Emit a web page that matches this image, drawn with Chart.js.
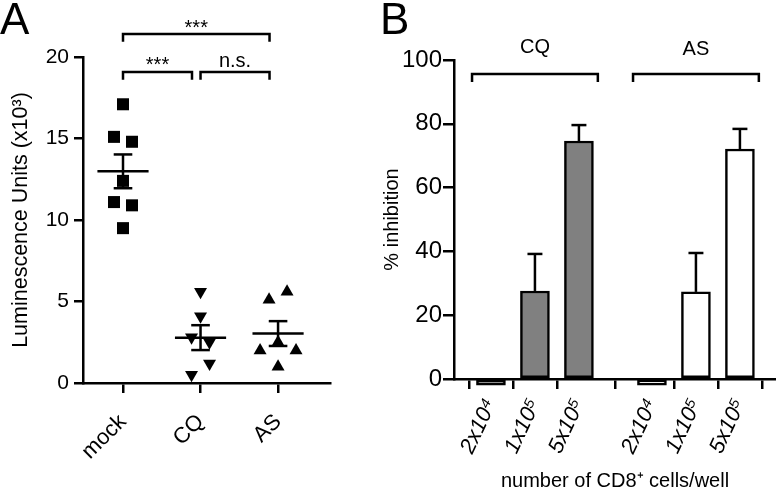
<!DOCTYPE html>
<html>
<head>
<meta charset="utf-8">
<script src="https://cdn.jsdelivr.net/npm/chart.js@4.4.0/dist/chart.umd.min.js"></script>
<style>
  body { margin: 0; background: #fff; }
  #wrap { position: relative; width: 776px; height: 487px; background: #fff; }
  canvas { position: absolute; top: 0; }
</style>
</head>
<body>
<div id="wrap">
  <canvas id="panelA" width="380" height="487" style="left:0"></canvas>
  <canvas id="panelB" width="396" height="487" style="left:380px"></canvas>
</div>
<script>
// ---- panel A: luminescence units (x10^3), one point per well
const groupsA = ['mock', 'CQ', 'AS'];
const mockVals = [17.1, 15.1, 14.8, 12.4, 11.1, 10.9, 9.5];
const cqVals = [5.6, 4.1, 2.8, 2.5, 1.2, 0.5];
const asVals = [5.6, 5.1, 2.5, 2.0, 2.0, 1.0];
// which side-by-side slot each point sits in inside its column
const mockSlots = [0, -1, 1, 0, -1, 1, 0];
const cqSlots = [0, 0, -1, 1, 1, -1];
const asSlots = [1, -1, 0, -2, 2, 0];
const yTicksA = [0, 5, 10, 15, 20];
// significance brackets: from group, to group, label
const sigA = [[0, 2, '***'], [0, 1, '***'], [1, 2, 'n.s.']];

// ---- panel B: % inhibition vs number of CD8+ cells/well
const drugs = ['CQ', 'AS'];
const doses = ['2x10⁴', '1x10⁵', '5x10⁵'];
const cqInhib = [-1.9, 27.6, 74.6];
const cqErr = [0, 11.6, 5.0];
const asInhib = [-1.9, 27.3, 72.1];
const asErr = [0, 12.2, 6.3];
const yTicksB = [0, 20, 40, 60, 80, 100];

const FONT = "'Liberation Sans', Arial, Helvetica, sans-serif";
Chart.defaults.font.family = FONT;
Chart.defaults.color = '#000';

const mean = a => a.reduce((s, v) => s + v, 0) / a.length;
const sem = a => {
  const m = mean(a);
  const sd = Math.sqrt(a.reduce((s, v) => s + (v - m) ** 2, 0) / (a.length - 1));
  return sd / Math.sqrt(a.length);
};

function seg(ctx, x1, y1, x2, y2) {
  ctx.beginPath();
  ctx.moveTo(x1, y1);
  ctx.lineTo(x2, y2);
  ctx.stroke();
}

// put the ink of a label centred on (x, y)
function centredText(ctx, txt, x, y) {
  const m = ctx.measureText(txt);
  ctx.textAlign = 'center';
  ctx.textBaseline = 'alphabetic';
  ctx.fillText(txt, x, y + (m.actualBoundingBoxAscent - m.actualBoundingBoxDescent) / 2);
}

const axisLine = { color: '#000', width: 2.5 };
const tickGrid = len => ({ drawOnChartArea: false, color: '#000', lineWidth: 2.5, tickLength: len });

// ---------------- panel A ----------------
const valsA = [mockVals, cqVals, asVals];
const slotsA = [mockSlots, cqSlots, asSlots];
const markA = [
  { style: 'rect', r: 8.5, rot: 0 },
  { style: 'triangle', r: 7.5, rot: 180 },
  { style: 'triangle', r: 7.5, rot: 0 }
];
const slotW = 0.116;

const datasetsA = groupsA.map((g, gi) => ({
  label: g,
  data: valsA[gi].map((v, i) => ({ x: gi + slotsA[gi][i] * slotW, y: v })),
  pointStyle: markA[gi].style,
  pointRadius: markA[gi].r,
  pointRotation: markA[gi].rot,
  backgroundColor: '#000',
  borderColor: '#000',
  borderWidth: 0,
  clip: false
}));

const drawA = {
  id: 'drawA',
  afterDraw(chart) {
    const { ctx, scales: { x, y } } = chart;
    ctx.save();
    ctx.strokeStyle = '#000';
    ctx.fillStyle = '#000';
    ctx.lineWidth = 2.5;
    // mean +/- SEM
    valsA.forEach((v, gi) => {
      const m = mean(v), e = sem(v);
      const ym = y.getPixelForValue(m), yHi = y.getPixelForValue(m + e), yLo = y.getPixelForValue(m - e);
      seg(ctx, x.getPixelForValue(gi - 0.33), ym, x.getPixelForValue(gi + 0.33), ym);
      seg(ctx, x.getPixelForValue(gi), yHi, x.getPixelForValue(gi), yLo);
      seg(ctx, x.getPixelForValue(gi - 0.12), yHi, x.getPixelForValue(gi + 0.12), yHi);
      seg(ctx, x.getPixelForValue(gi - 0.12), yLo, x.getPixelForValue(gi + 0.12), yLo);
    });
    // brackets
    ctx.font = '20px ' + FONT;
    sigA.forEach(([a, b, lbl]) => {
      const level = b - a - 1;
      const yb = y.getPixelForValue(19.08 + level * 2.33);
      const yt = y.getPixelForValue(18.6 + level * 2.33);
      const x1 = x.getPixelForValue(a), x2 = x.getPixelForValue(b - 0.11);
      ctx.beginPath();
      ctx.moveTo(x1, yt); ctx.lineTo(x1, yb); ctx.lineTo(x2, yb); ctx.lineTo(x2, yt);
      ctx.stroke();
      centredText(ctx, lbl, (x1 + x2) / 2, yb - 10.5);
    });
    ctx.font = '44px ' + FONT;
    ctx.textAlign = 'left';
    ctx.textBaseline = 'alphabetic';
    ctx.fillText('A', 0, 34);
    ctx.restore();
  }
};

new Chart(document.getElementById('panelA'), {
  type: 'scatter',
  data: { datasets: datasetsA },
  options: {
    responsive: false,
    animation: false,
    layout: { padding: { top: 57, right: 50, left: 0, bottom: 0 } },
    plugins: { legend: { display: false }, tooltip: { enabled: false } },
    scales: {
      x: {
        type: 'linear',
        offset: false,
        min: -0.516,
        max: 2.67,
        afterBuildTicks: s => { s.ticks = groupsA.map((_, i) => ({ value: i })); },
        afterFit: s => { s.height = 104; },
        grid: tickGrid(10),
        border: axisLine,
        ticks: {
          callback: v => groupsA[v],
          autoSkip: false,
          minRotation: 45,
          maxRotation: 45,
          padding: 16,
          font: { size: 22 }
        }
      },
      y: {
        min: 0,
        max: 20,
        afterBuildTicks: s => { s.ticks = yTicksA.map(v => ({ value: v })); },
        afterFit: s => { s.width = 83; },
        grid: tickGrid(9),
        border: axisLine,
        ticks: { padding: 5, font: { size: 21 } },
        title: {
          display: true,
          text: 'Luminescence Units (x10³)',
          font: { size: 21.5 },
          padding: { top: 8, bottom: 0 }
        }
      }
    }
  },
  plugins: [drawA]
});

// ---------------- panel B ----------------
const groupStep = 3.66;
const inhib = [cqInhib, asInhib];
const errs = [cqErr, asErr];

const datasetsB = drugs.map((d, g) => ({
  label: d,
  data: inhib[g].map((v, i) => ({ x: g * groupStep + i, y: v })),
  backgroundColor: g === 0 ? '#808080' : '#ffffff',
  borderColor: '#000',
  borderWidth: 2.5,
  borderSkipped: false,
  barThickness: 29,
  grouped: false,
  clip: false
}));

const drawB = {
  id: 'drawB',
  afterDraw(chart) {
    const { ctx, scales: { x, y } } = chart;
    ctx.save();
    ctx.strokeStyle = '#000';
    ctx.fillStyle = '#000';
    ctx.lineWidth = 2.5;
    // upper error bars
    inhib.forEach((vals, g) => {
      vals.forEach((v, i) => {
        const e = errs[g][i];
        if (!e) return;
        const c = g * groupStep + i;
        const yTop = y.getPixelForValue(v + e);
        seg(ctx, x.getPixelForValue(c), y.getPixelForValue(v), x.getPixelForValue(c), yTop);
        seg(ctx, x.getPixelForValue(c - 0.17), yTop, x.getPixelForValue(c + 0.17), yTop);
      });
    });
    // group brackets
    ctx.font = '20px ' + FONT;
    drugs.forEach((d, g) => {
      const mid = g * groupStep + 1;
      const x1 = x.getPixelForValue(mid - 1.43), x2 = x.getPixelForValue(mid + 1.43);
      const yb = y.getPixelForValue(95.6), yt = y.getPixelForValue(93.1);
      ctx.beginPath();
      ctx.moveTo(x1, yt); ctx.lineTo(x1, yb); ctx.lineTo(x2, yb); ctx.lineTo(x2, yt);
      ctx.stroke();
      centredText(ctx, d, (x1 + x2) / 2, y.getPixelForValue(103.8));
    });
    ctx.font = '44px ' + FONT;
    ctx.textAlign = 'left';
    ctx.textBaseline = 'alphabetic';
    ctx.fillText('B', 0, 34);
    ctx.restore();
  }
};

new Chart(document.getElementById('panelB'), {
  type: 'bar',
  data: { datasets: datasetsB },
  options: {
    responsive: false,
    animation: false,
    layout: { padding: { top: 60, right: 0, left: 0, bottom: 0 } },
    plugins: { legend: { display: false }, tooltip: { enabled: false } },
    scales: {
      x: {
        type: 'linear',
        offset: false,
        min: -0.84,
        max: 6.48,
        afterBuildTicks: s => {
          s.ticks = [];
          drugs.forEach((d, g) => doses.forEach((_, i) => s.ticks.push({ value: g * groupStep + i })));
        },
        afterFit: s => { s.height = 108; },
        grid: tickGrid(10),
        border: axisLine,
        ticks: {
          callback: (v, idx) => doses[idx % doses.length],
          autoSkip: false,
          minRotation: 65,
          maxRotation: 65,
          padding: 6,
          font: { size: 22, style: 'italic' }
        },
        title: {
          display: true,
          text: 'number of CD8⁺ cells/well',
          font: { size: 20, lineHeight: 0.6 },
          padding: { top: 0, bottom: 0 }
        }
      },
      y: {
        min: 0,
        max: 100,
        afterBuildTicks: s => { s.ticks = yTicksB.map(v => ({ value: v })); },
        afterFit: s => { s.width = 74; },
        grid: tickGrid(11),
        border: axisLine,
        ticks: { padding: 1, font: { size: 24 } },
        title: {
          display: true,
          text: '% inhibition',
          font: { size: 20 },
          padding: { top: 0, bottom: 0 }
        }
      }
    }
  },
  plugins: [drawB]
});
</script>
</body>
</html>
